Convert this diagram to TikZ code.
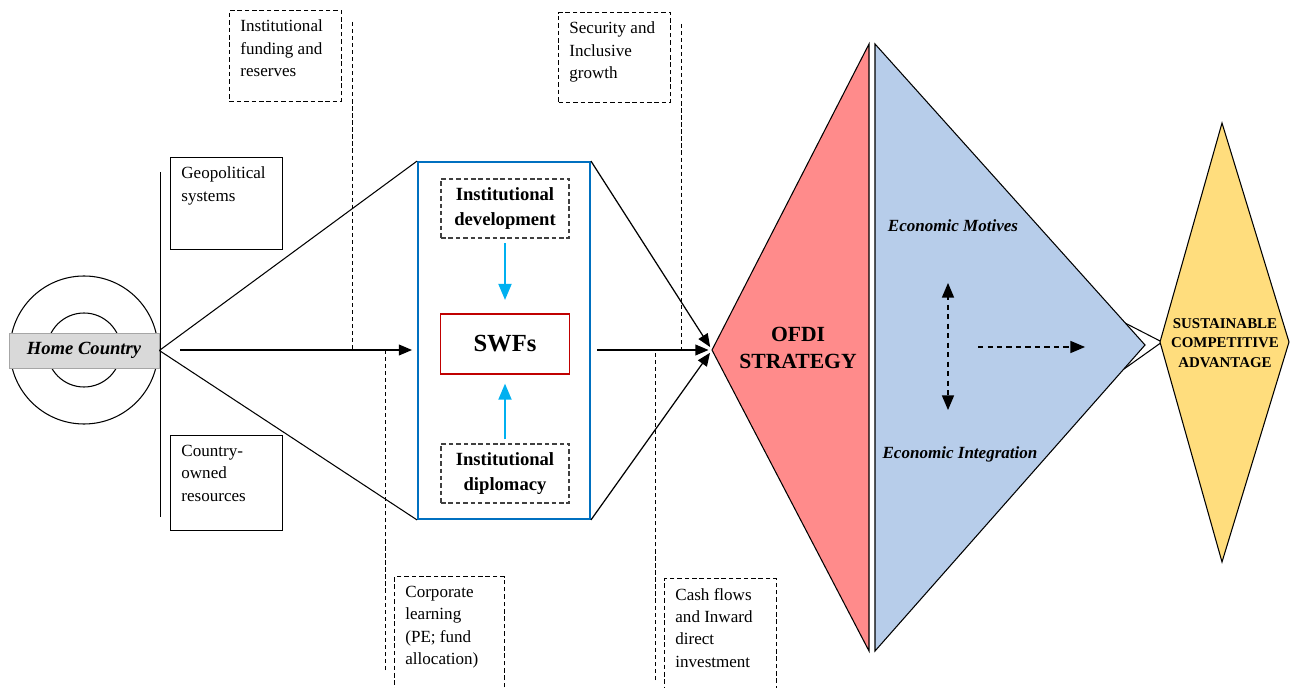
\documentclass[tikz,border=0pt]{standalone}
\usepackage{fontspec}
\setmainfont{Liberation Serif}
\usepackage{tikz}
\usetikzlibrary{arrows,positioning}

\definecolor{ofdired}{HTML}{FF8B8B}
\definecolor{motiveblue}{HTML}{B7CDEA}
\definecolor{scagold}{HTML}{FFDD7D}
\definecolor{swfframe}{HTML}{0070C0}
\definecolor{swfred}{HTML}{C00000}
\definecolor{linkcyan}{HTML}{00B0F0}

\begin{document}
\begin{tikzpicture}[x=0.02cm,y=-0.02cm,
	every node/.style={font=\fontsize{9.7}{12.8}\selectfont},
	notebox/.style={draw,anchor=north west,minimum width=2.24cm,inner sep=0pt,line width=0.6pt},
	dashbox/.style={notebox,dash pattern=on 2.6pt off 1.6pt},
	notetext/.style={anchor=north west,align=left,inner xsep=6.3pt,inner ysep=5.5pt},
	inst/.style={draw=black!75,dash pattern=on 2.6pt off 1.6pt,line width=0.6pt,minimum width=2.56cm,minimum height=1.18cm,inner sep=0pt,align=center,font=\fontsize{10.6}{14.2}\selectfont\bfseries},
	flow/.style={->,>=triangle 45,line width=0.7pt},
	guide/.style={dash pattern=on 2.4pt off 1.6pt,line width=0.5pt},
	feed/.style={->,>=triangle 45,draw=linkcyan,line width=1.1pt},
	motive/.style={>=triangle 45,dash pattern=on 3pt off 2.4pt,line width=0.9pt},
	econ/.style={font=\fontsize{9.7}{11}\selectfont\bfseries\itshape}]
		\useasboundingbox (0,0) rectangle (1290,688);

		% home country
		\draw[line width=0.6pt] (84,350) circle[radius=74];
		\draw[line width=0.6pt] (84,350) circle[radius=37];
		\node[draw=black!35,fill=black!15,minimum width=3cm,minimum height=0.7cm,inner sep=0pt,font=\fontsize{10.6}{12}\selectfont\bfseries\itshape] (hc) at (84,350.5) {Home Country};
		\draw[line width=0.5pt] (160,172) -- (160,517);

		\node[notebox,minimum height=1.84cm] (geo) at (170,157) {};
		\node[notetext] (geotext) at (geo.north west) {Geopolitical\\systems};
		\node[notebox,minimum height=1.9cm] (own) at (170,435) {};
		\node[notetext] (owntext) at (own.north west) {Country-\\owned\\resources};

		% dashed notes
		\node[dashbox,minimum height=1.82cm] (fund) at (229,10) {};
		\node[notetext] (fundtext) at (fund.north west) {Institutional\\funding and\\reserves};
		\node[dashbox,minimum height=1.8cm] (sec) at (558,12) {};
		\node[notetext] (sectext) at (sec.north west) {Security and\\Inclusive\\growth};
		\node[dashbox,minimum width=2.2cm,minimum height=2.38cm] (corp) at (394,576) {};
		\node[notetext] (corptext) at (corp.north west) {Corporate\\learning\\(PE; fund\\allocation)};
		\node[dashbox,minimum height=2.36cm] (cash) at (664,578) {};
		\node[notetext] (cashtext) at (cash.north west) {Cash flows\\and Inward\\direct\\investment};

		\draw[guide] ([shift={(10,12)}]fund.north east) -- ++(0,328);
		\draw[guide] ([shift={(10,12)}]sec.north east) -- ++(0,326);
		\draw[guide] (corp.north west) ++(-9,94) -- ++(0,-320);
		\draw[guide] (cash.north west) ++(-9,102) -- ++(0,-330);

		% SWFs block
		\node[draw=swfframe,line width=1.1pt,minimum width=3.44cm,minimum height=7.14cm,inner sep=0pt] (swfbox) at (504,340.5) {};
		\node[inst] (idev) at (505,208.5) {Institutional\\development};
		\node[draw=swfred,line width=1.1pt,minimum width=2.58cm,minimum height=1.2cm,inner sep=0pt,font=\fontsize{14}{16}\selectfont\bfseries] (swf) at (505,344) {SWFs};
		\node[inst] (idip) at (505,473.5) {Institutional\\diplomacy};
		\draw[feed,shorten <=2.8pt,shorten >=7.5pt] (idev.south) -- (swf.north);
		\draw[feed,shorten <=2.3pt,shorten >=5pt] (idip.north) -- (swf.south);

		\draw[line width=0.6pt] (hc.east) -- (swfbox.north west);
		\draw[line width=0.6pt] (hc.east) -- (swfbox.south west);

		% OFDI strategy
		\coordinate (apex) at (712,350);
		\draw[fill=ofdired,line width=0.6pt] (apex) -- (869,44) -- (869,651) -- cycle;
		\node[align=center,font=\fontsize{12.3}{15.4}\selectfont\bfseries] (ofdi) at (798,348) {OFDI\\STRATEGY};

		\coordinate (hcout) at (180,350);
		\coordinate (swfin) at (412,350);
		\coordinate (swfout) at (597,350);
		\draw[flow] (hcout) -- (swfin);
		\draw[flow,shorten >=2pt] (swfout) -- (apex);
		\draw[flow,shorten >=2pt] (swfbox.north east) -- (apex);
		\draw[flow,shorten >=2pt] (swfbox.south east) -- (apex);

		% motives
		\coordinate (scaleft) at (1162,342);
		\draw[line width=0.6pt] (1125,323) -- (scaleft) -- (1124,369);
		\draw[fill=motiveblue,line width=0.6pt] (875,44) -- (1145,345) -- (875,651) -- cycle;
		\node[econ] (motives) at (953,226) {Economic Motives};
		\node[econ] (integr) at (960,454) {Economic Integration};
		\coordinate (upper) at (948,283);
		\coordinate (lower) at (948,410);
		\coordinate (spread) at (978,347);
		\coordinate (gain) at (1085,347);
		\draw[motive,<->] (upper) -- (lower);
		\draw[motive,->] (spread) -- (gain);

		% advantage
		\draw[fill=scagold,line width=0.6pt] (1160,342) -- (1222,123) -- (1289,342) -- (1222,562) -- cycle;
		\node[align=center,font=\fontsize{8.5}{11}\selectfont\bfseries] (sca) at (1225,343) {SUSTAINABLE\\COMPETITIVE\\ADVANTAGE};
	\end{tikzpicture}
\end{document}
